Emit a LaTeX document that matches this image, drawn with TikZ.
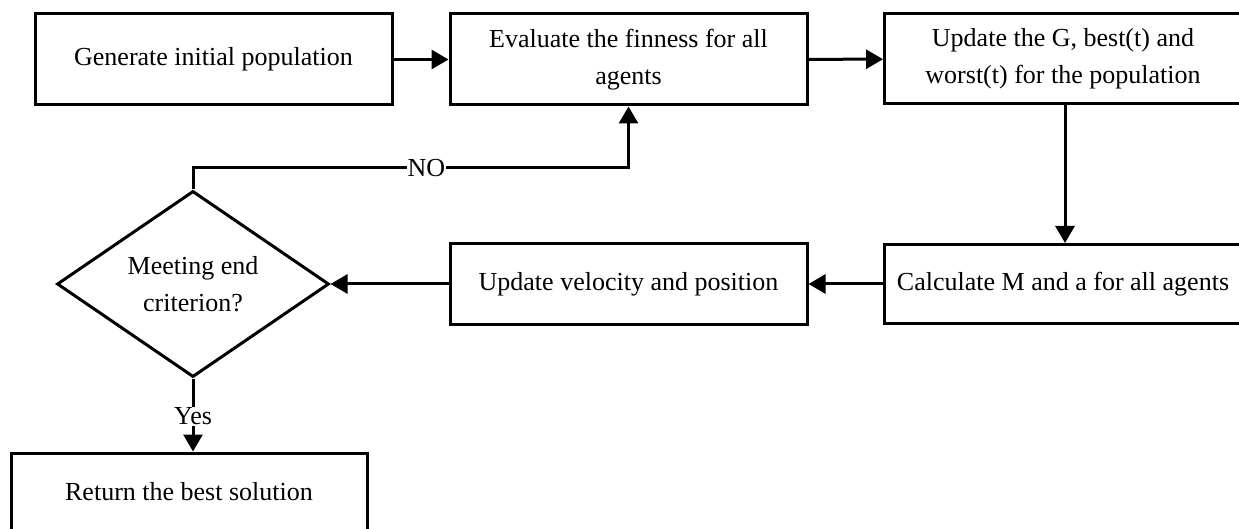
\documentclass[tikz,border=0pt]{standalone}
\usepackage{fontspec}
\setmainfont{Liberation Serif}
\usetikzlibrary{shapes.geometric,arrows.meta}
\begin{document}
\begin{tikzpicture}[x=1pt,y=-1pt,
  every node/.style={font=\fontsize{26}{37}\selectfont},
  box/.style={draw,line width=3pt,rectangle,align=center,inner sep=0pt},
  dia/.style={draw,line width=3pt,diamond,align=center,inner sep=0pt,minimum width=272pt,minimum height=177pt},
  conn/.style={line width=3pt,-{Triangle[length=17pt,width=19pt]}},
  lbl/.style={fill=white,inner sep=1pt}]
\clip (0,0) rectangle (1239,529);
\fill[white] (0,0) rectangle (1239,529);
\node[box,minimum width=357pt,minimum height=91pt] (b1) at (213.5,59.5) {Generate initial population};
\node[box,minimum width=357pt,minimum height=91pt] (b2) at (628.5,59.5) {Evaluate the finness for all\\agents};
\node[box,minimum width=357pt,minimum height=90pt] (b3) at (1063,59) {Update the G, best(t) and\\worst(t) for the population};
\node[box,minimum width=357pt,minimum height=79pt] (b4) at (1063,284) {Calculate M and a for all agents};
\node[box,minimum width=357pt,minimum height=80pt] (b5) at (628.5,284) {Update velocity and position};
\node[dia] (d) at (193,284) {Meeting end\\criterion?};
\node[box,minimum width=356pt,minimum height=78pt] (b6) at (189,492) {Return the best solution};
\draw[conn] (b1) -- (b2);
\draw[conn] (b2) -- (b3);
\draw[conn] (b3.south -| 1065,0) -- (b4.north -| 1065,0);
\draw[conn] (b4) -- (b5);
\draw[conn] (b5) -- (d.east);
\coordinate (nc) at (d.north |- 0,168);
\draw[conn] (d.north) -- (nc) -- node[lbl,pos=0.536]{NO} (nc -| b2.south) -- (b2.south);
\draw[conn] (d.south) -- node[lbl,pos=0.52]{Yes} (d.south |- b6.north);
\end{tikzpicture}
\end{document}
